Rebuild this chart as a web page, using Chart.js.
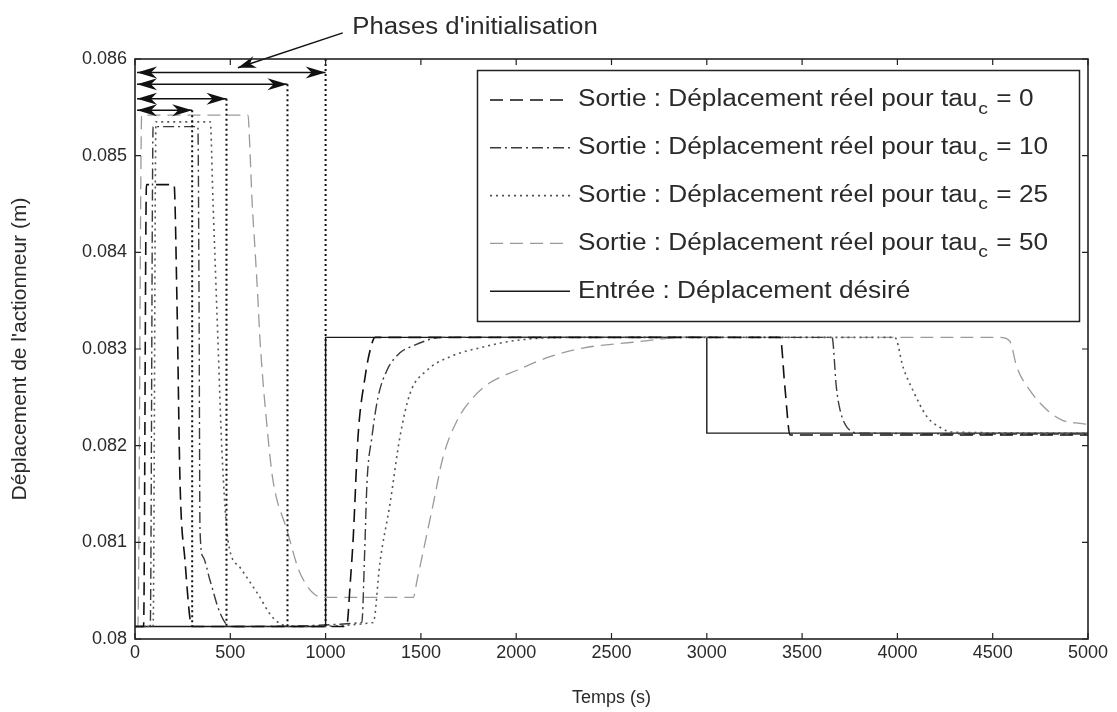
<!DOCTYPE html>
<html><head><meta charset="utf-8">
<script src="https://cdn.jsdelivr.net/npm/chart.js@4.4.1/dist/chart.umd.min.js"></script>
<style>html,body{margin:0;padding:0;background:#fff}canvas{display:block}</style>
</head><body>
<canvas id="c" width="1117" height="712"></canvas>
<script>
// ---------- data ----------
const xTicks = [0, 500, 1000, 1500, 2000, 2500, 3000, 3500, 4000, 4500, 5000];
const xTickLabels = ['0','500','1000','1500','2000','2500','3000','3500','4000','4500','5000'];
const yTicks = [0.080, 0.081, 0.082, 0.083, 0.084, 0.085, 0.086];
const yTickLabels = ['0.08','0.081','0.082','0.083','0.084','0.085','0.086'];
const xTitle = 'Temps (s)';
const yTitle = "Déplacement de l'actionneur (m)";
const legendLabels = [
  'Sortie : Déplacement réel pour tau_c = 0',
  'Sortie : Déplacement réel pour tau_c = 10',
  'Sortie : Déplacement réel pour tau_c = 25',
  'Sortie : Déplacement réel pour tau_c = 50',
  'Entrée : Déplacement désiré'
];

const tau0T = [0, 45, 60, 205, 220, 236, 262, 299, 1110, 1130, 1145, 1170, 1207, 1235, 1260, 3385, 3410, 3437, 5000];
const tau0V = [0.08013, 0.08013, 0.0847, 0.0847, 0.08351, 0.08164, 0.08082, 0.08013, 0.08013, 0.08060, 0.08105, 0.08209, 0.08271, 0.08300, 0.08312, 0.08312, 0.08260, 0.08211, 0.08211];

const tau10T = [0, 80, 95, 330, 336, 341, 357, 393, 446, 498, 1190, 1205, 1217, 1243, 1275, 1322, 1390, 1443, 1616, 3657, 3680, 3699, 3736, 3804, 5000];
const tau10V = [0.08013, 0.08013, 0.0853, 0.0853, 0.0835, 0.08113, 0.08085, 0.08061, 0.08027, 0.08013, 0.08017, 0.08090, 0.08161, 0.08209, 0.08250, 0.08278, 0.08296, 0.08302, 0.08312, 0.08312, 0.08260, 0.08237, 0.08219, 0.08213, 0.08212];

const tau25T = [0, 95, 110, 395, 409, 435, 456, 488, 551, 640, 724, 813, 1250, 1285, 1338, 1390, 1443, 1532, 1653, 1826, 2004, 2300, 3987, 4030, 4082, 4155, 4223, 4292, 5000];
const tau25V = [0.08013, 0.08013, 0.08535, 0.08535, 0.08454, 0.08310, 0.08195, 0.08102, 0.08074, 0.08048, 0.08022, 0.08013, 0.08017, 0.08079, 0.08140, 0.08209, 0.08254, 0.08278, 0.08292, 0.08302, 0.08309, 0.08312, 0.08312, 0.08281, 0.08257, 0.08230, 0.08219, 0.08214, 0.08213];

const tau50T = [0, 15, 35, 593, 603, 614, 630, 645, 656, 693, 724, 797, 866, 986, 1460, 1480, 1565, 1616, 1690, 1775, 1862, 2004, 2177, 2350, 2613, 2900, 4540, 4590, 4627, 4696, 4785, 4869, 4958, 5000];
const tau50V = [0.08013, 0.08013, 0.08542, 0.08542, 0.08506, 0.08454, 0.08402, 0.08351, 0.08309, 0.08219, 0.08164, 0.08113, 0.08068, 0.08043, 0.08043, 0.08061, 0.08140, 0.08188, 0.08226, 0.08250, 0.08265, 0.08278, 0.08292, 0.08301, 0.08307, 0.08312, 0.08312, 0.08308, 0.08281, 0.08257, 0.08237, 0.08226, 0.08223, 0.08222];

const inputT = [0, 1000, 1000, 3000, 3000, 5000];
const inputV = [0.08013, 0.08013, 0.08312, 0.08312, 0.08213, 0.08213];

// initialisation phases (end times and arrow levels)
const initEnds = [300, 480, 800, 1000];
const initArrowLevels = [0.08547, 0.08559, 0.08574, 0.08586];
const annotText = "Phases d'initialisation";
const annotTip = [540, 0.08591];
const annotStart = [1090, 0.08627];
const annotTextPos = [1140, 0.08632];

// ---------- chart ----------
const FONT = '"Liberation Sans", Arial, Helvetica, sans-serif';
const TXT = '#2a2a2a';
const pts = (T, V) => T.map((t, i) => ({x: t, y: V[i]}));

const styles = [
  {color: '#111111', dash: [13, 7], width: 1.6},
  {color: '#3a3a3a', dash: [11, 4, 2, 4], width: 1.4},
  {color: '#555555', dash: [2, 4], width: 1.6},
  {color: '#9a9a9a', dash: [13, 7], width: 1.3},
  {color: '#1a1a1a', dash: [], width: 1.4}
];
const series = [[tau0T, tau0V], [tau10T, tau10V], [tau25T, tau25V], [tau50T, tau50V], [inputT, inputV]];

const datasets = series.map((s, i) => ({
  label: legendLabels[i],
  data: pts(s[0], s[1]),
  showLine: true,
  borderColor: styles[i].color,
  borderWidth: styles[i].width,
  borderDash: styles[i].dash,
  pointRadius: 0,
  tension: 0,
  cubicInterpolationMode: i < 4 ? 'monotone' : 'default',
  fill: false
}));

function arrowHead(ctx, tx, ty, dir, L, H) {
  ctx.beginPath();
  ctx.moveTo(tx, ty);
  ctx.lineTo(tx - dir * L, ty - H);
  ctx.lineTo(tx - dir * L * 0.7, ty);
  ctx.lineTo(tx - dir * L, ty + H);
  ctx.closePath();
  ctx.fill();
}

// text slightly stretched horizontally (as in the scanned figure)
function stretchedText(ctx, text, x, y, size, sx) {
  ctx.save();
  ctx.translate(x, y);
  ctx.scale(sx, 1);
  ctx.font = size + 'px ' + FONT;
  ctx.fillText(text, 0, 0);
  const w = ctx.measureText(text).width * sx;
  ctx.restore();
  return w;
}

function drawSubLabel(ctx, text, x, y, size, sx) {
  const parts = text.split('_c');
  let w = stretchedText(ctx, parts[0], x, y, size, sx);
  if (parts.length > 1) {
    w += 1;
    w += stretchedText(ctx, 'c', x + w, y + 9, Math.round(size * 0.72), sx) + 1;
    stretchedText(ctx, parts[1], x + w, y, size, sx);
  }
}

const decor = {
  id: 'decor',
  afterDatasetsDraw(chart) {
    const {ctx, chartArea: a, scales: {x, y}} = chart;
    ctx.save();
    // vertical dotted markers at end of init phases
    ctx.strokeStyle = '#111';
    ctx.lineWidth = 2;
    ctx.setLineDash([2, 3]);
    initEnds.forEach((t, i) => {
      const px = x.getPixelForValue(t);
      const top = i === initEnds.length - 1 ? a.top : y.getPixelForValue(initArrowLevels[i]);
      ctx.beginPath();
      ctx.moveTo(px, top);
      ctx.lineTo(px, y.getPixelForValue(inputV[0]));
      ctx.stroke();
    });
    // double arrows
    ctx.setLineDash([]);
    ctx.lineWidth = 1.5;
    ctx.fillStyle = '#111';
    initEnds.forEach((t, i) => {
      const x0 = x.getPixelForValue(0), x1 = x.getPixelForValue(t);
      const py = y.getPixelForValue(initArrowLevels[i]);
      ctx.beginPath(); ctx.moveTo(x0 + 2, py); ctx.lineTo(x1, py); ctx.stroke();
      arrowHead(ctx, x0 + 2, py, -1, 20, 6);
      arrowHead(ctx, x1, py, 1, 20, 6);
    });
    // annotation arrow + text
    const tx = x.getPixelForValue(annotTip[0]), ty = y.getPixelForValue(annotTip[1]);
    const sx = x.getPixelForValue(annotStart[0]), sy = y.getPixelForValue(annotStart[1]);
    ctx.beginPath(); ctx.moveTo(sx, sy); ctx.lineTo(tx, ty); ctx.stroke();
    const ang = Math.atan2(ty - sy, tx - sx);
    ctx.save(); ctx.translate(tx, ty); ctx.rotate(ang);
    arrowHead(ctx, 0, 0, 1, 18, 6);
    ctx.restore();
    ctx.fillStyle = TXT;
    ctx.textBaseline = 'middle';
    ctx.textAlign = 'left';
    stretchedText(ctx, annotText, x.getPixelForValue(annotTextPos[0]), y.getPixelForValue(annotTextPos[1]), 23, 1.12);

    // legend box
    const bx = 477.5, by = 70.5, bw = 602, bh = 251;
    ctx.fillStyle = '#fff';
    ctx.fillRect(bx, by, bw, bh);
    ctx.strokeStyle = '#222'; ctx.lineWidth = 1.5;
    ctx.strokeRect(bx, by, bw, bh);
    chart.data.datasets.forEach((ds, i) => {
      const ry = 100 + i * 47.8;
      ctx.strokeStyle = ds.borderColor;
      ctx.lineWidth = ds.borderWidth;
      ctx.setLineDash(ds.borderDash);
      ctx.beginPath(); ctx.moveTo(490, ry); ctx.lineTo(570, ry); ctx.stroke();
      ctx.setLineDash([]);
      ctx.fillStyle = TXT;
      ctx.textBaseline = 'middle';
      drawSubLabel(ctx, ds.label, 578, ry, 23, 1.14);
    });
    ctx.restore();
  },
  afterDraw(chart) {
    const {ctx, chartArea: a, scales: {x, y}} = chart;
    ctx.save();
    ctx.strokeStyle = '#222';
    ctx.lineWidth = 1.6;
    ctx.strokeRect(a.left, a.top, a.right - a.left, a.bottom - a.top);
    ctx.lineWidth = 1.2;
    const tl = 6;
    xTicks.forEach(v => {
      const px = x.getPixelForValue(v);
      ctx.beginPath();
      ctx.moveTo(px, a.bottom); ctx.lineTo(px, a.bottom - tl);
      ctx.moveTo(px, a.top); ctx.lineTo(px, a.top + tl);
      ctx.stroke();
    });
    yTicks.forEach(v => {
      const py = y.getPixelForValue(v);
      ctx.beginPath();
      ctx.moveTo(a.left, py); ctx.lineTo(a.left + tl, py);
      ctx.moveTo(a.right, py); ctx.lineTo(a.right - tl, py);
      ctx.stroke();
    });
    ctx.restore();
  }
};

new Chart(document.getElementById('c'), {
  type: 'scatter',
  data: {datasets},
  options: {
    responsive: false,
    animation: false,
    layout: {padding: {top: 59, right: 29, left: 0, bottom: 0}},
    plugins: {legend: {display: false}, tooltip: {enabled: false}},
    scales: {
      x: {
        type: 'linear', min: 0, max: 5000,
        afterBuildTicks: s => { s.ticks = xTicks.map(v => ({value: v})); },
        ticks: {callback: (v, i) => xTickLabels[i], color: TXT, font: {family: FONT, size: 18}, padding: 3, maxRotation: 0, autoSkip: false},
        grid: {display: false, drawTicks: false},
        border: {display: false},
        title: {display: true, text: xTitle, color: TXT, font: {family: FONT, size: 18}, padding: {top: 0, bottom: 3}},
        afterFit: s => { s.height = 73; }
      },
      y: {
        type: 'linear', min: 0.080, max: 0.086,
        afterBuildTicks: s => { s.ticks = yTicks.map(v => ({value: v})); },
        ticks: {callback: (v, i) => yTickLabels[i], color: TXT, font: {family: FONT, size: 18}, padding: 8, autoSkip: false},
        grid: {display: false, drawTicks: false},
        border: {display: false},
        title: {display: true, text: yTitle, color: TXT, font: {family: FONT, size: 21}, padding: {top: 8, bottom: 0}},
        afterFit: s => { s.width = 135; }
      }
    }
  },
  plugins: [decor]
});
</script>
</body></html>
